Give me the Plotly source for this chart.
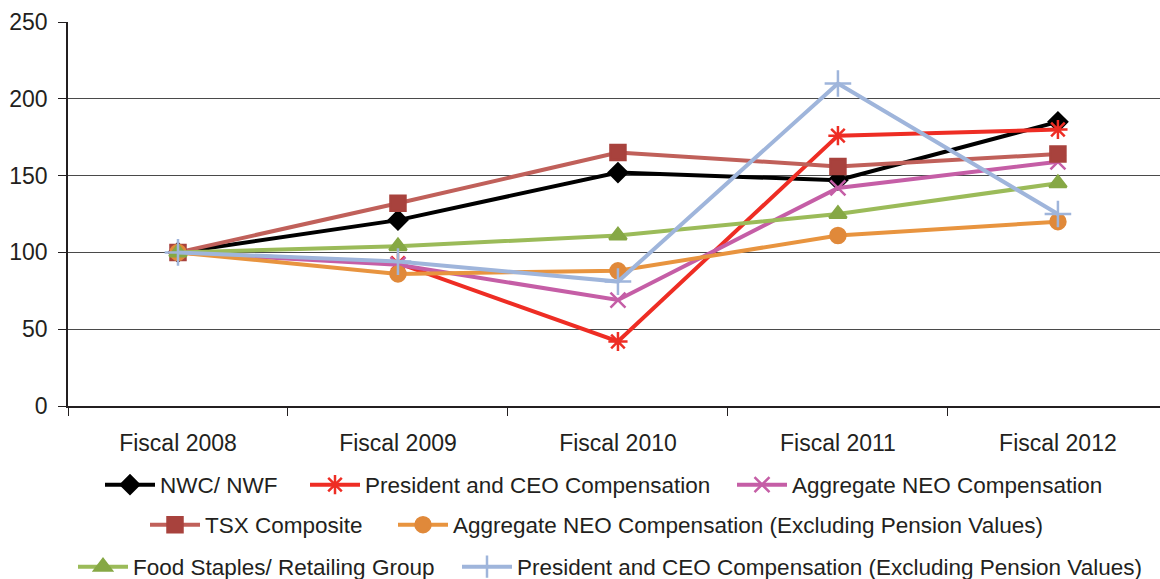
import plotly.graph_objects as go

categories = ["Fiscal 2008", "Fiscal 2009", "Fiscal 2010", "Fiscal 2011", "Fiscal 2012"]

nwc = [100, 121, 152, 147, 185]
ceo = [100, 93, 42, 176, 180]
neo = [100, 92, 69, 142, 159]
tsx = [100, 132, 165, 156, 164]
neo_excl = [100, 86, 88, 111, 120]
food = [100, 104, 111, 125, 145]
ceo_excl = [100, 94, 81, 210, 125]

y_ticks = [0, 50, 100, 150, 200, 250]

FONT = "Liberation Sans, Arial, sans-serif"
TXT = "#231f20"

series = [
    # name, data, line color, marker color, symbol, size
    ("NWC/ NWF", nwc, "#000000", "#000000", "diamond", 14),
    ("President and CEO Compensation", ceo, "#ee2d24", "#ee2d24", "asterisk-open", 16),
    ("Aggregate NEO Compensation", neo, "#c55ea6", "#c55ea6", "x-thin-open", 15),
    ("TSX Composite", tsx, "#c0605a", "#a8423d", "square", 15),
    ("Aggregate NEO Compensation (Excluding Pension Values)", neo_excl, "#e8943f", "#e0893a", "circle", 15),
    ("Food Staples/ Retailing Group", food, "#9bbb59", "#86a845", "triangle-up", 15),
    ("President and CEO Compensation (Excluding Pension Values)", ceo_excl, "#9fb5db", "#9fb5db", "cross-thin-open", 19),
]

# legend layout: (symbol start x px, row centre y px) for each entry
legend_pos = [(105, 485), (310, 485), (737, 485),
              (150, 525), (398, 525),
              (78, 567), (462, 567)]

fig = go.Figure()
legends = {}
for i, ((name, data, lc, mc, sym, sz), (lx, ly)) in enumerate(zip(series, legend_pos)):
    key = "legend" if i == 0 else f"legend{i + 1}"
    fig.add_trace(go.Scatter(
        x=categories, y=data, name=name, mode="lines+markers",
        line=dict(color=lc, width=4),
        marker=dict(symbol=sym, size=sz, color=mc, line=dict(color=mc, width=2.5)),
        legend=key,
    ))
    legends[key] = dict(
        orientation="h", xref="container", yref="container",
        x=(lx - 5) / 1160, y=1 - ly / 579,
        xanchor="left", yanchor="middle",
        font=dict(family=FONT, size=22.5, color=TXT),
        bgcolor="rgba(0,0,0,0)", itemwidth=50, borderwidth=0,
    )

fig.update_layout(
    width=1160, height=579,
    margin=dict(l=68, r=0, t=22, b=173),
    paper_bgcolor="white", plot_bgcolor="white",
    font=dict(family=FONT, size=23, color=TXT),
    showlegend=True,
    xaxis=dict(
        type="category", range=[-0.5, 4.464],
        showline=True, linecolor=TXT, linewidth=1.5,
        ticks="outside", tickson="boundaries", ticklen=8, tickcolor=TXT,
        showgrid=False, ticklabelstandoff=16,
        tickfont=dict(family=FONT, size=23, color=TXT),
    ),
    yaxis=dict(
        range=[0, 250], tickvals=y_ticks,
        showline=True, linecolor=TXT, linewidth=1.5,
        ticks="outside", ticklen=8, tickcolor=TXT,
        showgrid=True, gridcolor="#4a4a4a", gridwidth=1.2,
        zeroline=False, ticklabelstandoff=6,
        tickfont=dict(family=FONT, size=23, color=TXT),
    ),
    **legends,
)

fig.write_html("out.html")
